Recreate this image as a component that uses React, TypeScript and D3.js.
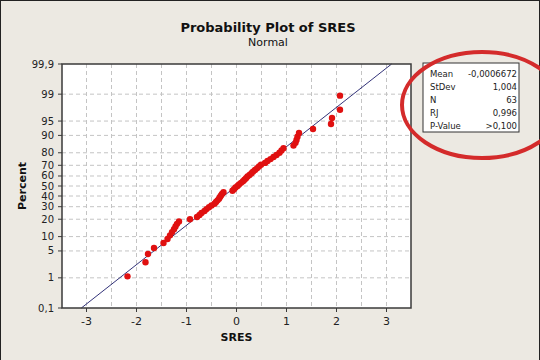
import React from "react";
import * as d3 from "d3";

// Sorted SRES values
const sres: number[] = [
  -2.18, -1.82, -1.77, -1.65, -1.46, -1.38, -1.33, -1.29, -1.25, -1.22, -1.19, -1.15,
  -0.93, -0.79, -0.74, -0.70, -0.64, -0.60, -0.55, -0.50, -0.44, -0.41, -0.38, -0.35,
  -0.33, -0.31, -0.29, -0.26, -0.08, -0.05, -0.02, 0.02, 0.05, 0.09, 0.13, 0.16,
  0.19, 0.22, 0.26, 0.30, 0.33, 0.37, 0.41, 0.45, 0.49, 0.57, 0.62, 0.68,
  0.74, 0.80, 0.86, 0.90, 0.94, 1.14, 1.18, 1.20, 1.22, 1.25, 1.53, 1.89,
  1.91, 2.07, 2.07,
];

const xTicks: number[] = [-3, -2, -1, 0, 1, 2, 3];
const yTicks: number[] = [0.1, 1, 5, 10, 20, 30, 40, 50, 60, 70, 80, 90, 95, 99, 99.9];
const yTickLabels: string[] = ["0,1", "1", "5", "10", "20", "30", "40", "50", "60", "70", "80", "90", "95", "99", "99,9"];

const statLabels: string[] = ["Mean", "StDev", "N", "RJ", "P-Value"];
const statValues: string[] = ["-0,0006672", "1,004", "63", "0,996", ">0,100"];
const fitMean = -0.0006672;
const fitSd = 1.004;

// inverse normal CDF (Acklam)
function probit(p: number): number {
  const a = [-3.969683028665376e1, 2.209460984245205e2, -2.759285104469687e2, 1.38357751867269e2, -3.066479806614716e1, 2.506628277459239];
  const b = [-5.447609879822406e1, 1.615858368580409e2, -1.556989798598866e2, 6.680131188771972e1, -1.328068155288572e1];
  const c = [-7.784894002430293e-3, -3.223964580411365e-1, -2.400758277161838, -2.549732539343734, 4.374664141464968, 2.938163982698783];
  const d = [7.784695709041462e-3, 3.224671290700398e-1, 2.445134137142996, 3.754408661907416];
  const pl = 0.02425;
  if (p < pl) {
    const q = Math.sqrt(-2 * Math.log(p));
    return (((((c[0] * q + c[1]) * q + c[2]) * q + c[3]) * q + c[4]) * q + c[5]) / ((((d[0] * q + d[1]) * q + d[2]) * q + d[3]) * q + 1);
  }
  if (p > 1 - pl) {
    const q = Math.sqrt(-2 * Math.log(1 - p));
    return -(((((c[0] * q + c[1]) * q + c[2]) * q + c[3]) * q + c[4]) * q + c[5]) / ((((d[0] * q + d[1]) * q + d[2]) * q + d[3]) * q + 1);
  }
  const q = p - 0.5;
  const r = q * q;
  return ((((((a[0] * r + a[1]) * r + a[2]) * r + a[3]) * r + a[4]) * r + a[5]) * q) / (((((b[0] * r + b[1]) * r + b[2]) * r + b[3]) * r + b[4]) * r + 1);
}

const W = 540;
const H = 360;
const L = 62, R = 411, T = 64, B = 308;
const font = "Tahoma, Verdana, 'DejaVu Sans', sans-serif";

export default function App() {
  const x = d3.scaleLinear().domain([-3.49, 3.49]).range([L, R]);
  const zMax = probit(0.999);
  const y = d3.scaleLinear().domain([-zMax, zMax]).range([B, T]);
  const n = sres.length;
  const pts = sres.map((v, i) => ({ v, z: probit((i + 1 - 0.3) / (n + 0.4)) }));
  const grid = d3.range(-3, 3.01, 0.5);
  const fit = d3.line<number>().x((z) => x(fitMean + fitSd * z)).y((z) => y(z));

  return (
    <svg width={W} height={H} style={{ position: "absolute", left: 0, top: 0 }} fontFamily={font}>
      <rect x={0} y={0} width={W} height={H} fill="#ECE9E2" />
      <line x1={0} y1={0.5} x2={W} y2={0.5} stroke="#222" />
      <line x1={0.5} y1={0} x2={0.5} y2={H} stroke="#222" />
      <line x1={W - 0.5} y1={0} x2={W - 0.5} y2={H} stroke="#222" />

      <text x={268} y={32} textAnchor="middle" fontSize={13} fontWeight="bold" fill="#111">Probability Plot of SRES</text>
      <text x={268} y={46} textAnchor="middle" fontSize={11} fill="#111">Normal</text>

      <rect x={L} y={T} width={R - L} height={B - T} fill="#fff" />
      {grid.map((g) => (
        <line key={"gx" + g} x1={x(g)} x2={x(g)} y1={T} y2={B} stroke="#c4c4c4" strokeDasharray="4,3" />
      ))}
      {yTicks.slice(1, -1).map((p) => (
        <line key={"gy" + p} x1={L} x2={R} y1={y(probit(p / 100))} y2={y(probit(p / 100))} stroke="#c4c4c4" strokeDasharray="4,3" />
      ))}

      <path d={fit([-zMax, zMax]) || ""} stroke="#1c1c6a" strokeWidth={0.9} fill="none" />
      {pts.map((p, i) => (
        <circle key={i} cx={x(p.v)} cy={y(p.z)} r={3.2} fill="#e01010" />
      ))}

      <rect x={L} y={T} width={R - L} height={B - T} fill="none" stroke="#3a3a3a" strokeWidth={1.5} />

      {xTicks.map((t) => (
        <g key={"xt" + t}>
          <line x1={x(t)} x2={x(t)} y1={B} y2={B + 4} stroke="#3a3a3a" />
          <text x={x(t)} y={B + 17} textAnchor="middle" fontSize={11} fill="#222">{t}</text>
        </g>
      ))}
      {yTicks.map((p, i) => (
        <g key={"yt" + p}>
          <line x1={L - 4} x2={L} y1={y(probit(p / 100))} y2={y(probit(p / 100))} stroke="#3a3a3a" />
          <text x={L - 8} y={y(probit(p / 100)) + 3.5} textAnchor="end" fontSize={10} fill="#222">{yTickLabels[i]}</text>
        </g>
      ))}

      <text x={x(0)} y={341} textAnchor="middle" fontSize={11} fontWeight="bold" fill="#111">SRES</text>
      <text transform={`translate(26,${(T + B) / 2}) rotate(-90)`} textAnchor="middle" fontSize={11} fontWeight="bold" fill="#111">Percent</text>

      <rect x={423} y={63} width={96} height={69} fill="#fff" stroke="#333" />
      {statLabels.map((s, i) => (
        <g key={s}>
          <text x={430} y={76.5 + i * 13} fontSize={8.5} fill="#222">{s}</text>
          <text x={517} y={76.5 + i * 13} textAnchor="end" fontSize={8.5} fill="#222">{statValues[i]}</text>
        </g>
      ))}

      <ellipse cx={482} cy={105} rx={80} ry={53} fill="none" stroke="#d42b2b" strokeWidth={4} />
    </svg>
  );
}
